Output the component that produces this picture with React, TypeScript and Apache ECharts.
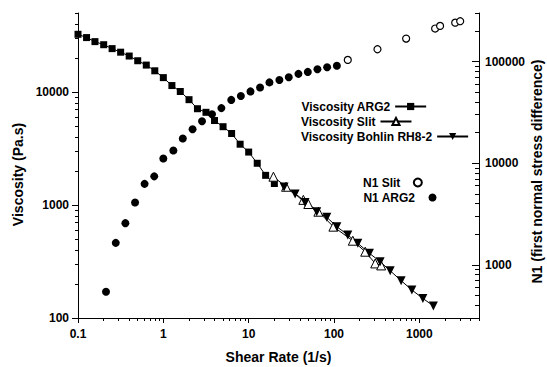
import React, { useEffect, useRef } from "react";
import * as echarts from "echarts";

// ---- Data ----
const arg2ShearRate = [0.1, 0.126, 0.158, 0.2, 0.251, 0.316, 0.398, 0.501, 0.631, 0.794, 1, 1.26, 1.58, 2, 2.51, 3.16, 3.98, 5.01, 6.31, 7.94, 10, 12.6, 15.8, 20];
const arg2Viscosity = [32400, 30300, 27900, 26200, 24200, 22500, 20800, 18900, 17300, 15400, 13400, 11400, 10100, 8550, 7110, 6610, 5590, 4930, 4290, 3450, 2940, 2340, 1830, 1550];

const slitShearRate = [19.5, 27.4, 43.7, 50, 65.6, 98.4, 166, 232, 304, 357];
const slitViscosity = [1780, 1450, 1110, 1020, 872, 643, 483, 386, 304, 292];

const bohlinShearRate = [26, 35, 45.8, 62.8, 82.4, 108, 145, 190, 260, 347, 455, 612, 817, 1100, 1460];
const bohlinViscosity = [1440, 1250, 1050, 872, 778, 643, 543, 458, 374, 315, 262, 214, 177, 149, 128];

const n1Arg2ShearRate = [0.213, 0.277, 0.359, 0.466, 0.603, 0.782, 1.0, 1.31, 1.69, 2.2, 2.84, 3.72, 4.79, 6.25, 8.1, 10.5, 13.6, 17.5, 22.9, 29.5, 38.3, 49.3, 63.9, 83, 108];
const n1Arg2 = [543, 1645, 2570, 4100, 6260, 7420, 11100, 13300, 17500, 21600, 25800, 30300, 34800, 41900, 45700, 50800, 55600, 62300, 65900, 70100, 75600, 79000, 84000, 87900, 91000];

const n1SlitShearRate = [145, 323, 700, 1530, 1750, 2630, 3010];
const n1Slit = [103700, 132000, 168000, 211000, 224000, 241000, 249000];

// ---- Ticks ----
const xMajorTicks = [0.1, 1, 10, 100, 1000];
const xMinorTicks = [0.2, 0.3, 0.4, 0.5, 0.6, 0.7, 0.8, 0.9, 2, 3, 4, 5, 6, 7, 8, 9, 20, 30, 40, 50, 60, 70, 80, 90, 200, 300, 400, 500, 600, 700, 800, 900, 2000, 3000, 4000, 5000];
const yLeftMajorTicks = [100, 1000, 10000];
const yLeftMinorTicks = [200, 300, 400, 500, 600, 700, 800, 900, 2000, 3000, 4000, 5000, 6000, 7000, 8000, 9000, 20000, 30000, 40000, 50000];
const yRightMajorTicks = [1000, 10000, 100000];
const yRightMinorTicks = [300, 400, 500, 600, 700, 800, 900, 2000, 3000, 4000, 5000, 6000, 7000, 8000, 9000, 20000, 30000, 40000, 50000, 60000, 70000, 80000, 90000, 200000, 300000];

const FONT = "'Liberation Sans', Arial, sans-serif";

const pairs = (xs: number[], ys: number[]) => xs.map((x, i) => [x, ys[i]]);

export default function App() {
  const ref = useRef<HTMLDivElement>(null);
  useEffect(() => {
    if (!ref.current) return;
    const chart = echarts.init(ref.current, undefined, { renderer: "svg" });
    const black = "#000";
    const tickLabel = { color: black, fontSize: 12, fontWeight: "bold" as const, fontFamily: FONT };
    const nameStyle = { color: black, fontSize: 14, fontWeight: "bold" as const, fontFamily: FONT };
    const fmt = (v: number) => String(v);
    const minorAxisBase = {
      type: "log" as const,
      logBase: 10,
      axisLine: { show: false, onZero: false },
      axisLabel: { show: false },
      splitLine: { show: false },
    };
    const legendItem = (name: string, left: number, top: number, itemWidth: number, itemHeight: number) => ({
      data: [name],
      orient: "vertical",
      left,
      top,
      align: "right",
      padding: 0,
      itemGap: 0,
      itemWidth,
      itemHeight,
      textStyle: { ...tickLabel, lineHeight: 15 },
    });
    chart.setOption({
      animation: false,
      backgroundColor: "#fff",
      grid: { left: 78, right: 68, top: 13, bottom: 49, outerBoundsMode: "none" },
      xAxis: [
        {
          type: "log",
          logBase: 10,
          min: 0.1,
          max: 5000,
          position: "bottom",
          axisLine: { onZero: false, lineStyle: { color: black, width: 1 } },
          axisTick: { length: 5, customValues: xMajorTicks, lineStyle: { color: black } },
          axisLabel: { ...tickLabel, customValues: xMajorTicks, margin: 10, formatter: fmt },
          splitLine: { show: false },
          name: "Shear Rate (1/s)",
          nameLocation: "middle",
          nameGap: 32,
          nameTextStyle: nameStyle,
        },
        {
          ...minorAxisBase,
          min: 0.1,
          max: 5000,
          position: "bottom",
          axisTick: { length: 3, customValues: xMinorTicks, lineStyle: { color: black } },
        },
      ],
      yAxis: [
        {
          type: "log",
          logBase: 10,
          min: 100,
          max: 50000,
          position: "left",
          axisLine: { show: true, onZero: false, lineStyle: { color: black, width: 1 } },
          axisTick: { length: 6, customValues: yLeftMajorTicks, lineStyle: { color: black } },
          axisLabel: { ...tickLabel, customValues: yLeftMajorTicks, margin: 9, formatter: fmt },
          splitLine: { show: false },
          name: "Viscosity (Pa.s)",
          nameLocation: "middle",
          nameRotate: 90,
          nameGap: 50,
          nameTextStyle: { ...nameStyle, padding: [0, 18, 0, 0] },
        },
        {
          type: "log",
          logBase: 10,
          min: 300,
          max: 300000,
          position: "right",
          axisLine: { show: true, onZero: false, lineStyle: { color: black, width: 1 } },
          axisTick: { inside: true, length: 7, customValues: yRightMajorTicks, lineStyle: { color: black } },
          axisLabel: { ...tickLabel, customValues: yRightMajorTicks, margin: 6, formatter: fmt },
          splitLine: { show: false },
          name: "N1 (first normal stress difference)",
          nameLocation: "middle",
          nameRotate: 90,
          nameGap: 51,
          nameMoveOverlap: false,
          nameTextStyle: { ...nameStyle, padding: [0, 12, 0, 0] },
        },
        {
          ...minorAxisBase,
          min: 100,
          max: 50000,
          position: "left",
          axisTick: { length: 3, customValues: yLeftMinorTicks, lineStyle: { color: black } },
        },
        {
          ...minorAxisBase,
          min: 300,
          max: 300000,
          position: "right",
          axisTick: { inside: true, length: 4, customValues: yRightMinorTicks, lineStyle: { color: black } },
        },
      ],
      legend: [
        legendItem("Viscosity ARG2", 301, 99, 31, 9),
        legendItem("Viscosity Slit", 301, 114, 31, 9),
        legendItem("Viscosity Bohlin RH8-2", 301, 129, 31, 9),
        legendItem("N1 Slit", 363, 175, 25, 8),
        legendItem("N1 ARG2", 363, 190, 25, 8),
      ],
      series: [
        {
          name: "Viscosity ARG2",
          type: "line",
          xAxisIndex: 0,
          yAxisIndex: 0,
          data: pairs(arg2ShearRate, arg2Viscosity),
          symbol: "rect",
          symbolSize: 7,
          itemStyle: { color: black, opacity: 1 },
          lineStyle: { color: black, width: 1 },
        },
        {
          name: "Viscosity Slit",
          type: "line",
          xAxisIndex: 0,
          yAxisIndex: 0,
          data: pairs(slitShearRate, slitViscosity),
          symbol: "triangle",
          symbolSize: 9,
          itemStyle: { color: "#fff", borderColor: black, borderWidth: 1, opacity: 1 },
          lineStyle: { color: black, width: 1 },
        },
        {
          name: "Viscosity Bohlin RH8-2",
          type: "line",
          xAxisIndex: 0,
          yAxisIndex: 0,
          data: pairs(bohlinShearRate, bohlinViscosity),
          symbol: "triangle",
          symbolRotate: 180,
          symbolSize: 9,
          itemStyle: { color: black, opacity: 1 },
          lineStyle: { color: black, width: 1 },
        },
        {
          name: "N1 Slit",
          type: "scatter",
          xAxisIndex: 0,
          yAxisIndex: 1,
          data: pairs(n1SlitShearRate, n1Slit),
          symbol: "circle",
          symbolSize: 7,
          itemStyle: { color: "#fff", borderColor: black, borderWidth: 1.2, opacity: 1 },
        },
        {
          name: "N1 ARG2",
          type: "scatter",
          xAxisIndex: 0,
          yAxisIndex: 1,
          data: pairs(n1Arg2ShearRate, n1Arg2),
          symbol: "circle",
          symbolSize: 8,
          itemStyle: { color: black, opacity: 1 },
        },
      ],
    });
    return () => chart.dispose();
  }, []);
  return (
    <div
      ref={ref}
      style={{ position: "absolute", left: 0, top: 0, width: 547, height: 367 }}
    />
  );
}
